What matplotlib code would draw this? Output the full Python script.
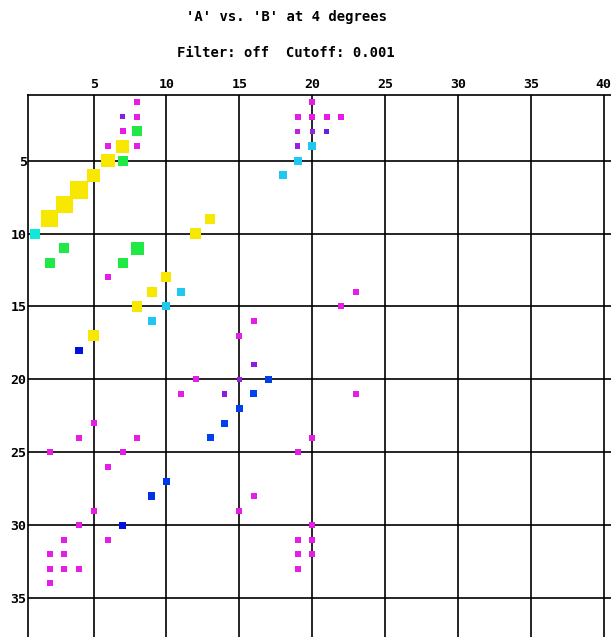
import numpy as np
import matplotlib.pyplot as plt

# Dados (posicao A, posicao B) por grupo de cor

# quadrados pequenos magenta
mag_x = [8, 8, 7, 6, 8, 20, 19, 20, 21, 22, 6, 16, 15, 12, 11, 23, 22, 23,
         5, 4, 8, 2, 7, 6, 5, 4, 3, 6, 2, 3, 2, 3, 4, 2,
         20, 19, 16, 15, 20, 19, 20, 19, 20, 19]
mag_y = [1, 2, 3, 4, 4, 1, 2, 2, 2, 2, 13, 16, 17, 20, 21, 14, 15, 21,
         23, 24, 24, 25, 25, 26, 29, 30, 31, 31, 32, 32, 33, 33, 33, 34,
         24, 25, 28, 29, 30, 31, 31, 32, 32, 33]

# quadrados pequenos roxos
roxo_x = [7, 19, 20, 21, 19, 16, 15, 14]
roxo_y = [2, 3, 3, 3, 4, 19, 20, 21]
roxo_cor = ['#8a1ee0', '#c020e0', '#9a20e0', '#6a20e0', '#9a20e0', '#8a1ee0', '#9a20e0', '#8a1ee0']

# ciano
ciano_x = [20, 19, 18, 11, 10, 9]
ciano_y = [4, 5, 6, 14, 15, 16]
turq_x = [1]
turq_y = [10]

# azul
azul_x = [4, 17, 16, 15, 14, 13, 10, 9, 7]
azul_y = [18, 20, 21, 22, 23, 24, 27, 28, 30]
azul_cor = ['#0010e0', '#0040e8', '#0044f0', '#0040f0', '#0040f0', '#0040f0', '#0038ec', '#0030e8', '#0010e0']

# amarelo
amar_x = [7, 6, 5, 4, 3, 2, 12, 13, 10, 9, 8, 5]
amar_y = [4, 5, 6, 7, 8, 9, 10, 9, 13, 14, 15, 17]
amar_s = [88, 95, 88, 160, 150, 150, 65, 55, 52, 55, 55, 55]

# verde
verde_x = [8, 7, 3, 8, 2, 7]
verde_y = [3, 5, 11, 11, 12, 12]
verde_s = [52, 52, 52, 90, 52, 52]

W, H = 611, 637
fig = plt.figure(figsize=(W / 100, H / 100), dpi=100)
ax = fig.add_axes([28 / W, 0, 1 - 28 / W, 1 - 95 / H])

mk = dict(marker='s', linewidths=0, zorder=3)
ax.scatter(mag_x, mag_y, s=14, color='#e41ee4', **mk)
ax.scatter(roxo_x, roxo_y, s=14, color=roxo_cor, **mk)
ax.scatter(ciano_x, ciano_y, s=26, color='#1ec8f0', **mk)
ax.scatter(turq_x, turq_y, s=52, color='#10e8d8', **mk)
ax.scatter(azul_x, azul_y, s=26, color=azul_cor, **mk)
ax.scatter(amar_x, amar_y, s=amar_s, color='#f8e800', **mk)
ax.scatter(verde_x, verde_y, s=verde_s, color='#20e844', **mk)

ax.set_xlim(0.5, 40.5)
ax.set_ylim(37.67, 0.5)
ax.set_xticks(np.arange(5, 41, 5))
ax.set_yticks(np.arange(5, 36, 5))
ax.xaxis.tick_top()
ax.tick_params(length=0, pad=3, labelsize=9.5)
for lbl in ax.get_xticklabels() + ax.get_yticklabels():
    lbl.set_family('DejaVu Sans Mono')
    lbl.set_weight('bold')
ax.tick_params(axis='y', pad=1)
ax.grid(True, color='black', lw=1.2, zorder=1)
ax.set_axisbelow(True)
for sp in ax.spines.values():
    sp.set_color('black')
    sp.set_linewidth(1.2)
ax.spines['right'].set_visible(False)
ax.spines['bottom'].set_visible(False)

fig.text(286 / W, 1 - 17 / H, "'A' vs. 'B' at 4 degrees", ha='center', va='center',
         family='DejaVu Sans Mono', weight='bold', fontsize=10)
fig.text(286 / W, 1 - 53 / H, "Filter: off  Cutoff: 0.001", ha='center', va='center',
         family='DejaVu Sans Mono', weight='bold', fontsize=10)

fig.savefig('out.png', dpi=100)
